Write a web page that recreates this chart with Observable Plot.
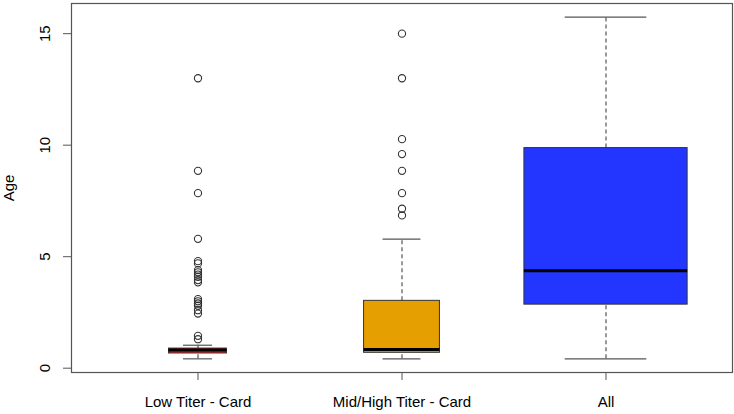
<!DOCTYPE html>
<html>
<head>
<meta charset="utf-8">
<script src="https://cdn.jsdelivr.net/npm/d3@7"></script>
<script src="https://cdn.jsdelivr.net/npm/@observablehq/plot@0.6"></script>
<style>
  html, body { margin: 0; padding: 0; background: #fff; }
</style>
</head>
<body>
<div id="chart"></div>
<script>
// ---- data ----
const groups = ["Low Titer - Card", "Mid/High Titer - Card", "All"];
const groupN = [126, 216, 1000];          // estimated sample sizes (varwidth boxes)
const whiskerLow = [0.42, 0.42, 0.42];
const q1 = [0.66, 0.69, 2.85];
const median = [0.82, 0.84, 4.37];
const q3 = [0.88, 3.02, 9.87];
const whiskerHigh = [1.03, 5.79, 15.74];
const lowTiterOutliers = [13.0, 8.85, 7.85, 5.8, 4.8, 4.7, 4.4, 4.3, 4.2, 4.1, 3.95, 3.85,
                          3.1, 3.0, 2.9, 2.8, 2.6, 2.45, 1.45, 1.3];
const midTiterOutliers = [15.0, 13.0, 10.27, 9.6, 8.85, 7.85, 7.15, 6.85];
const allOutliers = [];
const yTicks = [0, 5, 10, 15];
const yLabel = "Age";
const fills = ["#E3241B", "#E69F00", "#2236FF"];

// ---- derived tables ----
const maxN = d3.max(groupN);
const stats = groups.map((g, i) => ({
  group: g, pos: i + 1,
  half: 0.4 * Math.sqrt(groupN[i] / maxN),
  lo: whiskerLow[i], q1: q1[i], med: median[i], q3: q3[i], hi: whiskerHigh[i]
}));
const outliers = [lowTiterOutliers, midTiterOutliers, allOutliers]
  .flatMap((arr, i) => arr.map(v => ({pos: i + 1, value: v})));

const yMin = d3.min([...whiskerLow, ...outliers.map(d => d.value)]);
const yMax = d3.max([...whiskerHigh, ...outliers.map(d => d.value)]);
const yPad = (yMax - yMin) * 0.04;
const xPad = groups.length * 0.04;

const lineCol = "#555";

const chart = Plot.plot({
  width: 734,
  height: 414,
  marginTop: 3,
  marginRight: 2,
  marginBottom: 42,
  marginLeft: 71,
  style: {fontFamily: "'Liberation Sans', Arial, Helvetica, sans-serif", fontSize: "15px", background: "#fff", color: "#000"},
  x: {domain: [0.5 - xPad, groups.length + 0.5 + xPad]},
  y: {domain: [yMin - yPad, yMax + yPad]},
  color: {domain: groups, range: fills},
  marks: [
    // whiskers (dashed)
    Plot.ruleX(stats, {x: "pos", y1: "q3", y2: "hi", stroke: lineCol, strokeWidth: 1.2, strokeDasharray: "4,3"}),
    Plot.ruleX(stats, {x: "pos", y1: "lo", y2: "q1", stroke: lineCol, strokeWidth: 1.2, strokeDasharray: "4,3"}),
    // staples
    Plot.ruleY(stats, {y: "hi", x1: d => d.pos - d.half / 2, x2: d => d.pos + d.half / 2, stroke: lineCol, strokeWidth: 1.2}),
    Plot.ruleY(stats, {y: "lo", x1: d => d.pos - d.half / 2, x2: d => d.pos + d.half / 2, stroke: lineCol, strokeWidth: 1.2}),
    // boxes
    Plot.rect(stats, {x1: d => d.pos - d.half, x2: d => d.pos + d.half, y1: "q1", y2: "q3", fill: "group", stroke: "#333", strokeWidth: 1}),
    // medians
    Plot.ruleY(stats, {y: "med", x1: d => d.pos - d.half, x2: d => d.pos + d.half, stroke: "#000", strokeWidth: 3}),
    // outliers
    Plot.dot(outliers, {x: "pos", y: "value", r: 3.6, stroke: "#333", strokeWidth: 1.1, fill: "none"}),
    Plot.frame({stroke: lineCol, strokeWidth: 1.2}),
    Plot.axisX({ticks: [1, 2, 3], tickFormat: v => groups[v - 1], tickSize: 8, tickPadding: 16, label: null, stroke: lineCol, fontSize: 15, fill: "#000"}),
    Plot.axisY({ticks: yTicks, tickSize: 8, tickRotate: -90, tickPadding: 14, label: yLabel, labelAnchor: "center", labelArrow: "none", stroke: lineCol, fontSize: 15, fill: "#000"})
  ]
});
document.getElementById("chart").appendChild(chart);
</script>
</body>
</html>
